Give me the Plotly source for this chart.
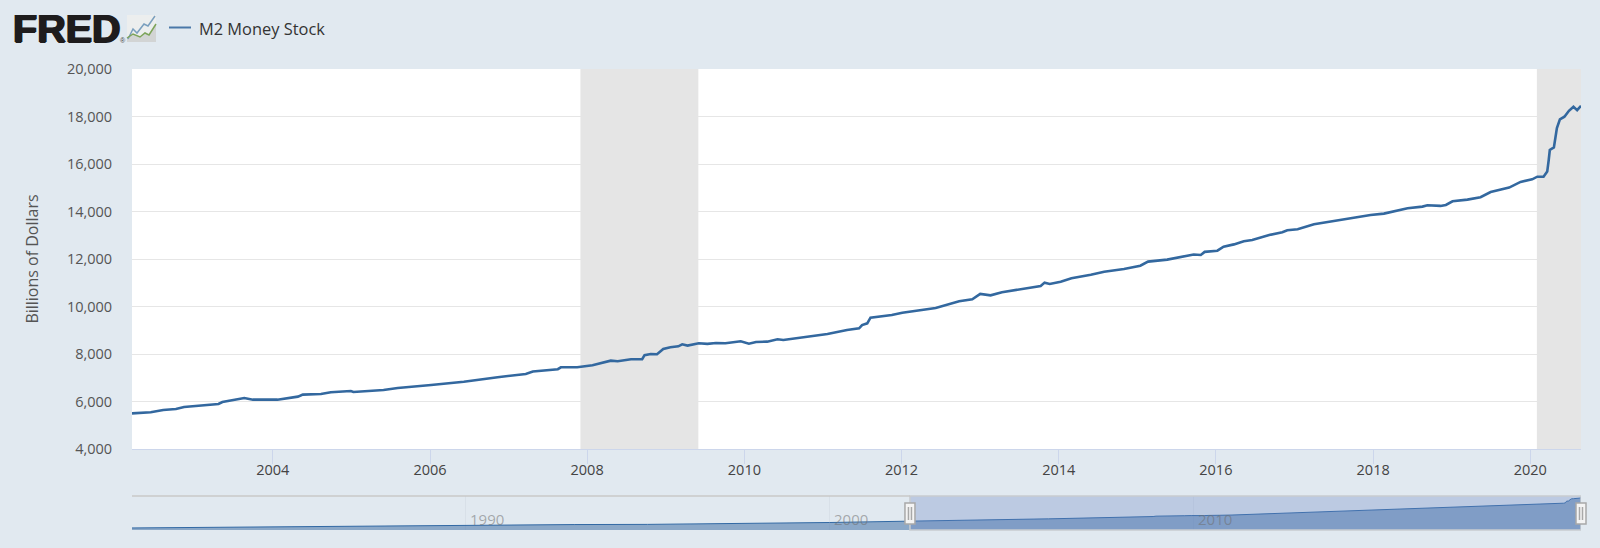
import plotly.graph_objects as go
from datetime import datetime

# M2 weekly-ish values (billions of dollars)
dates = [
    "2002-03-18", "2002-06-13", "2002-08-10", "2002-10-08", "2002-11-15", "2003-01-31", "2003-04-24", "2003-05-12",
    "2003-08-04", "2003-08-22", "2003-10-01", "2004-01-23", "2004-04-27", "2004-05-20", "2004-08-12", "2004-09-27",
    "2004-12-29", "2005-01-10", "2005-05-30", "2005-08-04", "2006-01-06", "2006-06-07", "2006-11-11", "2007-03-22",
    "2007-04-24", "2007-08-18", "2007-09-01", "2007-11-16", "2008-01-26", "2008-04-20", "2008-05-22", "2008-07-23",
    "2008-09-13", "2008-09-24", "2008-10-23", "2008-11-21", "2008-12-20", "2009-01-22", "2009-02-28", "2009-03-18",
    "2009-04-12", "2009-06-03", "2009-07-13", "2009-08-22", "2009-10-05", "2009-12-15", "2010-01-22", "2010-02-24",
    "2010-04-17", "2010-06-04", "2010-07-01", "2010-09-20", "2011-01-22", "2011-04-23", "2011-06-18", "2011-07-02",
    "2011-07-26", "2011-08-10", "2011-09-10", "2011-11-17", "2012-01-05", "2012-06-08", "2012-09-25", "2012-11-25",
    "2013-01-01", "2013-02-18", "2013-04-12", "2013-07-09", "2013-10-09", "2013-10-27", "2013-11-20", "2014-01-10",
    "2014-03-01", "2014-05-30", "2014-07-31", "2014-10-31", "2015-01-15", "2015-02-20", "2015-05-20", "2015-09-20",
    "2015-10-23", "2015-11-10", "2016-01-08", "2016-02-06", "2016-03-25", "2016-05-10", "2016-06-18", "2016-09-05",
    "2016-11-05", "2016-11-28", "2017-01-15", "2017-04-01", "2017-07-08", "2017-10-04", "2017-12-20", "2018-02-20",
    "2018-05-01", "2018-06-10", "2018-08-18", "2018-09-10", "2018-11-10", "2018-12-05", "2019-01-05", "2019-03-15",
    "2019-05-15", "2019-07-01", "2019-09-25", "2019-11-17", "2020-01-10", "2020-02-03", "2020-03-03", "2020-03-20",
    "2020-03-27", "2020-04-01", "2020-04-20", "2020-05-04", "2020-05-18", "2020-06-08", "2020-06-29", "2020-07-20",
    "2020-08-06", "2020-08-24",
]
m2 = [
    5500, 5546, 5643, 5686, 5770, 5825, 5897, 5980,
    6095, 6148, 6077, 6077, 6204, 6288, 6317, 6387,
    6443, 6400, 6485, 6570, 6696, 6835, 7020, 7160,
    7260, 7360, 7440, 7440, 7525, 7720, 7695, 7780,
    7780, 7950, 8000, 7990, 8210, 8285, 8325, 8410,
    8355, 8450, 8425, 8465, 8450, 8535, 8435, 8505,
    8520, 8620, 8590, 8700, 8840, 9010, 9080, 9220,
    9290, 9530, 9570, 9640, 9740, 9940, 10220, 10305,
    10530, 10470, 10600, 10725, 10865, 11005, 10950, 11045,
    11190, 11340, 11465, 11580, 11720, 11890, 11975, 12190,
    12170, 12300, 12350, 12520, 12615, 12745, 12800, 13010,
    13125, 13210, 13250, 13460, 13610, 13755, 13850, 13910,
    14035, 14135, 14205, 14260, 14235, 14275, 14430, 14500,
    14600, 14820, 15005, 15245, 15355, 15465, 15465, 15680,
    16170, 16590, 16700, 17510, 17880, 17990, 18240, 18410,
    18270, 18450,
]

# older part, only visible in the navigator
old_dates = ["1980-11-01", "1983-01-01", "1985-01-01", "1987-01-01", "1990-01-01", "1993-01-01", "1995-01-01",
             "1997-01-01", "1999-01-01", "2000-01-01", "2001-01-01"]
old_m2 = [1600, 2000, 2400, 2800, 3200, 3500, 3600, 3900, 4400, 4650, 5000]

recessions = [("2007-12-01", "2009-06-01"), ("2020-02-01", "2020-08-24")]
y_ticks = [4000, 6000, 8000, 10000, 12000, 14000, 16000, 18000, 20000]
x_ticks = ["2004-01-01", "2006-01-01", "2008-01-01", "2010-01-01", "2012-01-01", "2014-01-01", "2016-01-01",
           "2018-01-01", "2020-01-01"]
x_labels = ["2004", "2006", "2008", "2010", "2012", "2014", "2016", "2018", "2020"]
nav_ticks = ["1990-01-01", "2000-01-01", "2010-01-01"]
nav_labels = ["1990", "2000", "2010"]

BG = "#e1e9f0"
LINE = "#33689f"
FONT = "Open Sans"

# plot box in pixels
L, R, T, B = 132, 1581, 69, 530
MAIN_BOTTOM = 449
NAV_TOP = 496


def px(x):
    return (x - L) / (R - L)


def py(y):
    return (B - y) / (B - T)


sel_start, sel_end = dates[0], dates[-1]
nav_start = old_dates[0]
d0 = datetime.fromisoformat(nav_start)
d1 = datetime.fromisoformat(sel_end)
sel_frac = (datetime.fromisoformat(sel_start) - d0) / (d1 - d0)

fig = go.Figure()
fig.add_trace(go.Scatter(x=dates, y=m2, mode="lines", name="M2 Money Stock", showlegend=False, hoverinfo="x+y",
                         line=dict(color=LINE, width=2.6), xaxis="x", yaxis="y"))
fig.add_trace(go.Scatter(x=old_dates + dates, y=old_m2 + m2, mode="lines", showlegend=False, hoverinfo="skip",
                         line=dict(color="#3269a4", width=1), fill="tozeroy", fillcolor="rgba(69,114,167,0.55)",
                         xaxis="x2", yaxis="y2"))

shapes = []
# navigator sits on the page colour, not on white
shapes.append(dict(type="rect", xref="paper", yref="paper", x0=0, x1=1, y0=0, y1=py(NAV_TOP), layer="below",
                   fillcolor=BG, line_width=0))
# recession bands
for a, b in recessions:
    shapes.append(dict(type="rect", xref="x", yref="y", x0=a, x1=b, y0=4000, y1=20000, layer="between",
                       fillcolor="#e5e5e5", line_width=0))

# navigator selection
shapes.append(dict(type="rect", xref="x2", yref="paper", x0=sel_start, x1=sel_end, y0=0, y1=py(NAV_TOP),
                   fillcolor="rgba(102,133,194,0.3)", line=dict(color="#c8ccd0", width=1.5)))
shapes.append(dict(type="line", xref="x2", yref="paper", x0=nav_start, x1=sel_start, y0=py(NAV_TOP), y1=py(NAV_TOP),
                   line=dict(color="#c8c8c8", width=1.5)))
# handles
for frac in [sel_frac, 1]:
    shapes.append(dict(type="rect", xref="paper", yref="paper", xsizemode="pixel", xanchor=frac, x0=-5, x1=5,
                       y0=py(524), y1=py(503), fillcolor="#f4f4f4", line=dict(color="#a8a8a8", width=1.5)))
    for dx in [-1.5, 1.5]:
        shapes.append(dict(type="line", xref="paper", yref="paper", xsizemode="pixel", xanchor=frac, x0=dx, x1=dx,
                           y0=py(520), y1=py(507), line=dict(color="#a8a8a8", width=1.5)))

# legend key
shapes.append(dict(type="line", xref="paper", yref="paper", x0=px(169), x1=px(191), y0=py(27.5), y1=py(27.5),
                   line=dict(color="#4a78a9", width=2)))


# logo icon
def logo_path(points, close=False):
    s = "M" + " L".join(f"{px(x)},{py(y)}" for x, y in points)
    return s + (" Z" if close else "")


shapes.append(dict(type="rect", xref="paper", yref="paper", x0=px(127), x1=px(156), y0=py(42), y1=py(15),
                   fillcolor="#eceeee", line_width=0))
shapes.append(dict(type="path", xref="paper", yref="paper", fillcolor="#d2d4d4", line_width=0,
                   path=logo_path([(127, 38), (133, 34), (140, 37), (145, 33), (149, 35), (156, 24), (156, 42), (127, 42)], True)))
shapes.append(dict(type="path", xref="paper", yref="paper", line=dict(color="#7a9fbe", width=1.5),
                   path=logo_path([(128, 39), (133, 29), (137, 33), (144, 24), (148, 26), (155, 16)])))
shapes.append(dict(type="path", xref="paper", yref="paper", line=dict(color="#7da45a", width=1.5),
                   path=logo_path([(127, 38), (133, 34), (140, 37), (145, 33), (149, 35), (156, 24)])))

annotations = [
    dict(text="<b>FRED</b>", xref="paper", yref="paper", x=px(11), y=py(28), xanchor="left", yanchor="middle",
         showarrow=False, font=dict(family="Liberation Sans", size=39.5, color="#1e1c1d",
                                    shadow="1px 0 0 #1e1c1d, -1px 0 0 #1e1c1d, 0 1px 0 #1e1c1d")),
    dict(text="®", xref="paper", yref="paper", x=px(118), y=py(40), xanchor="left", yanchor="middle",
         showarrow=False, font=dict(family="Liberation Sans", size=7, color="#444444")),
    dict(text="M2 Money Stock", xref="paper", yref="paper", x=px(197), y=py(28.5), xanchor="left", yanchor="middle",
         showarrow=False, font=dict(family=FONT, size=16.4, color="#333333")),
]
for d, t in zip(nav_ticks, nav_labels):
    annotations.append(dict(text=t, xref="x2", yref="paper", x=d, y=py(519), xanchor="left", yanchor="middle",
                            xshift=2, showarrow=False, font=dict(family=FONT, size=15, color="rgba(110,110,110,0.55)")))

fig.update_layout(
    width=1600,
    height=548,
    margin=dict(l=L, r=1600 - R, t=T, b=548 - B, autoexpand=False),
    paper_bgcolor=BG,
    plot_bgcolor="white",
    showlegend=False,
    font=dict(family=FONT, size=15, color="#555555"),
    shapes=shapes,
    annotations=annotations,
    xaxis=dict(type="date", range=[sel_start, sel_end], domain=[0, 1], anchor="y", tickmode="array", tickvals=x_ticks,
               ticktext=x_labels, ticks="outside", ticklen=14, tickcolor="#ccd6eb", tickwidth=1, ticklabelstandoff=-6,
               showgrid=False, zeroline=False, showline=True, linecolor="#ccd6eb", linewidth=1,
               tickfont=dict(size=14.5, color="#444444")),
    yaxis=dict(range=[4000, 20000], domain=[py(MAIN_BOTTOM), 1], anchor="x", tickmode="array", tickvals=y_ticks,
               tickformat=",d", ticks="outside", ticklen=16, tickcolor="rgba(0,0,0,0)", gridcolor="#e6e6e6", gridwidth=1,
               zeroline=False, showline=False, tickfont=dict(size=14.5, color="#555555"),
               title=dict(text="Billions of Dollars", standoff=24, font=dict(size=16, color="#555555"))),
    xaxis2=dict(type="date", range=[nav_start, sel_end], domain=[0, 1], anchor="y2", tickmode="array", tickvals=nav_ticks,
                showticklabels=False, ticks="", showgrid=True, gridcolor="#d8e0e8", zeroline=False, showline=False),
    yaxis2=dict(range=[450, 19500], domain=[0, py(NAV_TOP)], anchor="x2", showticklabels=False, ticks="", showgrid=False,
                zeroline=False, showline=False),
)

# the page has a default body margin, drop it so the chart fills the window
fig.write_html("out.html", post_script="document.body.style.margin='0';", config={"displayModeBar": False})
